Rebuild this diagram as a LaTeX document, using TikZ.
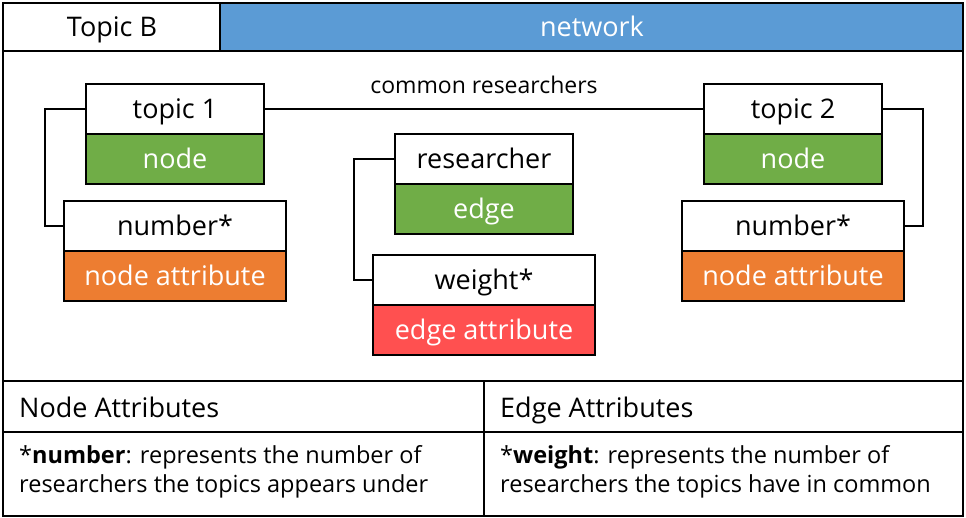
\documentclass[tikz,border=0pt]{standalone}
\usepackage{fontspec}
\setmainfont{Open Sans}
\definecolor{netblue}{HTML}{5B9BD5}
\definecolor{nodegreen}{HTML}{70AD47}
\definecolor{attrorange}{HTML}{ED7D31}
\definecolor{attrred}{HTML}{FF5050}
\begin{document}
\begin{tikzpicture}[x=1pt,y=-1pt,
  frame/.style={line width=2pt},
  cell/.style={draw, line width=2pt, minimum height=50pt, inner sep=0pt,
    text height=24pt, text depth=4pt, font=\fontsize{27}{32}\selectfont},
  namecell/.style={cell, fill=white, text=black},
  kindcell/.style={cell, fill=#1, text=white},
  link/.style={line width=2pt},
  hdr/.style={font=\fontsize{27}{32}\selectfont, inner sep=0pt, text height=24pt, text depth=4pt},
  desc/.style={font=\fontsize{23.5}{29}\selectfont, inner sep=0pt, align=left, anchor=north west}]
\useasboundingbox (0,0) rectangle (966,518);

% header row
\fill[netblue] (220,3) rectangle (963,51);
\node[hdr] (title) at (112,27) {Topic B};
\node[hdr, text=white] (net) at (592,27) {network};

% graph elements
\node[namecell, minimum width=178pt] (t1) at (175,109) {topic 1};
\node[kindcell=nodegreen, minimum width=178pt] (t1k) at (175,159) {node};
\node[namecell, minimum width=222pt] (n1) at (175,226) {number*};
\node[kindcell=attrorange, minimum width=222pt] (n1k) at (175,276) {node attribute};

\node[namecell, minimum width=178pt] (r) at (484,159) {researcher};
\node[kindcell=nodegreen, minimum width=178pt] (rk) at (484,209) {edge};
\node[namecell, minimum width=222pt] (w) at (484,280) {weight*};
\node[kindcell=attrred, minimum width=222pt] (wk) at (484,330) {edge attribute};

\node[namecell, minimum width=178pt] (t2) at (793,109) {topic 2};
\node[kindcell=nodegreen, minimum width=178pt] (t2k) at (793,159) {node};
\node[namecell, minimum width=222pt] (n2) at (793,226) {number*};
\node[kindcell=attrorange, minimum width=222pt] (n2k) at (793,276) {node attribute};

% connectors
\draw[link] (t1.west) -- ++(-40,0) |- (n1.west);
\draw[link] (t1.east) -- (t2.west);
\node[font=\fontsize{23}{27}\selectfont, inner sep=0pt, anchor=base] (cr) at (484,94) {common researchers};
\draw[link] (r.west) -- ++(-40,0) |- (w.west);
\draw[link] (t2.east) -- ++(40,0) |- (n2.east);

% legend table
\node[hdr, anchor=base west] (nah) at (19,417) {Node Attributes};
\node[hdr, anchor=base west] (eah) at (500,417) {Edge Attributes};
\node[desc] (nad) at (19,445) {*\textbf{number}: represents the number of\\researchers the topics appears under};
\node[desc] (ead) at (500,445) {*\textbf{weight}: represents the number of\\researchers the topics have in common};

% frame lines
\draw[frame] (3,51) -- (963,51);
\draw[frame] (220,3) -- (220,51);
\draw[frame] (3,381) -- (963,381);
\draw[frame] (3,432) -- (963,432);
\draw[frame] (484,381) -- (484,516);
\draw[frame] (3,3) rectangle (963,516);
\end{tikzpicture}
\end{document}
